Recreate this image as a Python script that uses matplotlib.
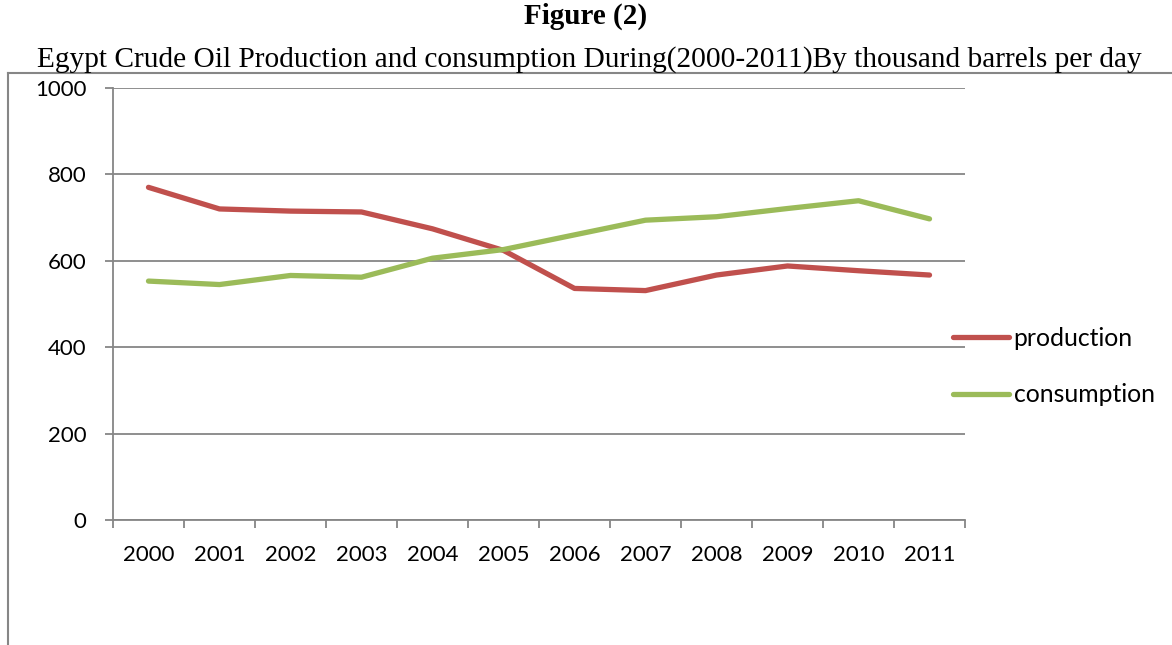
import matplotlib
matplotlib.use("Agg")
import matplotlib.pyplot as plt
from matplotlib.lines import Line2D

years = ["2000", "2001", "2002", "2003", "2004", "2005",
         "2006", "2007", "2008", "2009", "2010", "2011"]
production = [770, 720, 715, 713, 674, 624, 536, 531, 567, 588, 577, 567]
consumption = [553, 545, 566, 562, 606, 626, 660, 694, 702, 721, 739, 697]
y_ticks = [0, 200, 400, 600, 800, 1000]

RED = "#C0504D"
GREEN = "#9BBB59"
GRAY = "#868686"
LABEL_FONT = "Lato"

fig = plt.figure(figsize=(11.72, 6.45), dpi=100)
ax = fig.add_axes([0.0964, 0.1938, 0.727, 0.6698])

x = list(range(len(years)))
ax.plot(x, production, color=RED, lw=3.8, solid_capstyle="round",
        solid_joinstyle="round", label="production")
ax.plot(x, consumption, color=GREEN, lw=3.8, solid_capstyle="round",
        solid_joinstyle="round", label="consumption")

ax.set_xlim(-0.5, len(years) - 0.5)
ax.set_ylim(0, 1000)

# tick marks sit between categories, labels at category centres
ax.set_xticks([i - 0.5 for i in range(len(years) + 1)])
ax.set_xticklabels([])
ax.set_xticks(x, minor=True)
ax.set_xticklabels(years, minor=True, fontsize=16, family=LABEL_FONT)
ax.tick_params(axis="x", which="major", length=6, width=1.3, color=GRAY, direction="out")
ax.tick_params(axis="x", which="minor", length=0, pad=18)

ax.set_yticks(y_ticks)
ax.set_yticklabels([str(v) for v in y_ticks], fontsize=16, family=LABEL_FONT)
ax.tick_params(axis="y", length=6, width=1.3, color=GRAY, direction="out", pad=13)

ax.yaxis.grid(True, color=GRAY, lw=1.3)
ax.set_axisbelow(True)
for side in ["top", "right"]:
    ax.spines[side].set_visible(False)
for side in ["left", "bottom"]:
    ax.spines[side].set_color(GRAY)
    ax.spines[side].set_linewidth(1.3)

leg = ax.legend(loc="center left", bbox_to_anchor=(0.986, 0.355), frameon=False,
                prop={"family": LABEL_FONT, "size": 17.8},
                handlelength=2.25, handletextpad=0.2, labelspacing=1.35,
                borderaxespad=0.0, borderpad=0.0)

# outer frame of the chart area
fig.add_artist(Line2D([0.0068, 0.0068], [0.0, 0.8868], color=GRAY, lw=1.5))
fig.add_artist(Line2D([0.0068, 1.0], [0.8868, 0.8868], color=GRAY, lw=1.5))

fig.text(0.5, 0.974, "Figure (2)", ha="center", va="center",
         family="Liberation Serif", fontsize=21, fontweight="bold")
fig.text(0.503, 0.908,
         "Egypt Crude Oil Production and consumption During(2000-2011)By thousand barrels per day",
         ha="center", va="center", family="Liberation Serif", fontsize=21.2)

fig.savefig("out.png", dpi=100)
